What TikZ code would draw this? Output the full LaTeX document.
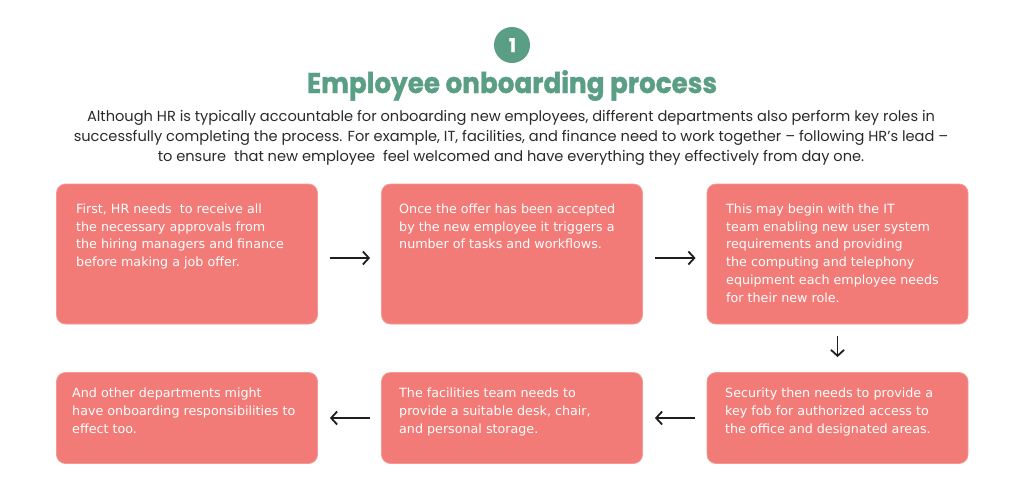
\documentclass[tikz,border=0pt]{standalone}
\usepackage{fontspec}
\setmainfont{DejaVu Sans}
\newfontfamily\popfont{Poppins}
\newfontfamily\popheavy[FakeBold=1.3]{Poppins}
\usetikzlibrary{arrows.meta,calc}
\definecolor{boxfill}{HTML}{F27B77}
\definecolor{boxline}{HTML}{F29A96}
\definecolor{teal}{HTML}{5B9E86}
\definecolor{arrowc}{HTML}{1E1E1E}
\definecolor{bodyc}{HTML}{2A2A2A}
\tikzset{
  stepbox/.style={draw=boxline, line width=0.8pt, fill=boxfill, rounded corners=9pt,
    minimum width=261pt, inner sep=0pt},
  toprow/.style={stepbox, minimum height=140pt},
  botrow/.style={stepbox, minimum height=91pt},
  boxtext/.style={text=white, font=\fontsize{12.7}{17.8}\selectfont, align=left,
    anchor=north west, inner sep=0pt},
  arr/.style={draw=arrowc, line width=1.8pt, -{Straight Barb[length=6pt,width=13pt,line width=1.8pt]}},
}
\begin{document}
\begin{tikzpicture}[x=1pt,y=-1pt]
\useasboundingbox (0,0) rectangle (1024,501);
% header
\node[circle, fill=teal, minimum size=36pt, inner sep=0pt] (num) at (512,45) {};
\node[text=white, font=\popheavy\bfseries\fontsize{19}{19}\selectfont, anchor=base] (numt) at (512.5,52) {1};
\node[text=teal, font=\popheavy\bfseries\fontsize{28.5}{30}\selectfont, anchor=base] (title) at (512,93) {\scalebox{0.92}[1]{Employee onboarding process}};
\node[text=bodyc, font=\popfont\fontsize{14.6}{20.2}\selectfont, align=center, anchor=north, inner sep=0pt] (intro) at (511,110) {Although HR is typically accountable for onboarding new employees, different departments also perform key roles in\\successfully completing the process. For example, IT, facilities, and finance need to work together – following HR’s lead –\\to ensure\ \ that new employee\ \ feel welcomed and have everything they effectively from day one.};
% boxes
\node[toprow] (b1) at (187,254) {};
\node[toprow] (b2) at (512,254) {};
\node[toprow] (b3) at (837.5,254) {};
\node[botrow] (b4) at (837.5,418) {};
\node[botrow] (b5) at (512,418) {};
\node[botrow] (b6) at (187,418) {};
% texts
\node[boxtext] (t1) at (76,203.5) {First, HR needs\ \ to receive all\\the necessary approvals from\\the hiring managers and finance\\before making a job offer.};
\node[boxtext] (t2) at (399,203.5) {Once the offer has been accepted\\by the new employee it triggers a\\number of tasks and workflows.};
\node[boxtext] (t3) at (726,203.5) {This may begin with the IT\\team enabling new user system\\requirements and providing\\the computing and telephony\\equipment each employee needs\\for their new role.};
\node[boxtext] (t4) at (725,388) {Security then needs to provide a\\key fob for authorized access to\\the office and designated areas.};
\node[boxtext] (t5) at (399,388) {The facilities team needs to\\provide a suitable desk, chair,\\and personal storage.};
\node[boxtext] (t6) at (72,388) {And other departments might\\have onboarding responsibilities to\\effect too.};
% arrows
\draw[arr, shorten <=12pt, shorten >=11pt] ([yshift=-4pt]b1.east) -- ([yshift=-4pt]b2.west);
\draw[arr, shorten <=12pt, shorten >=11pt] ([yshift=-4pt]b2.east) -- ([yshift=-4pt]b3.west);
\draw[arr, shorten <=12pt, shorten >=15pt] (b3.south) -- (b4.north);
\draw[arr, shorten <=12pt, shorten >=12pt] (b4.west) -- (b5.east);
\draw[arr, shorten <=11pt, shorten >=12pt] (b5.west) -- (b6.east);
\end{tikzpicture}
\end{document}
